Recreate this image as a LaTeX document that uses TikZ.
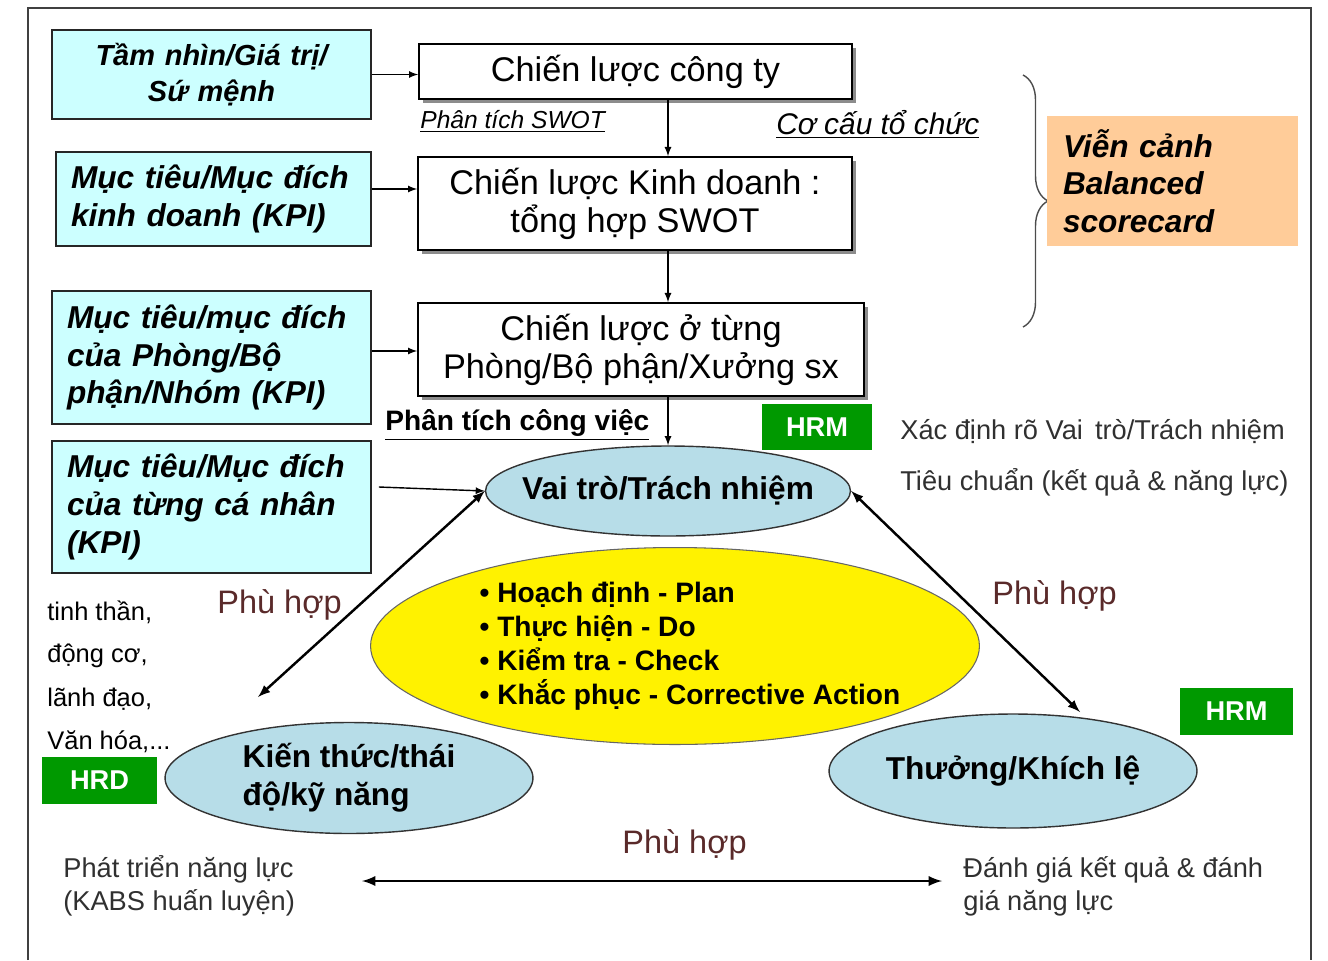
\documentclass[tikz,border=0pt]{standalone}
\usepackage{fontspec}
\setmainfont{Liberation Sans}
\usetikzlibrary{shapes.geometric,shadows,decorations.pathreplacing}
\definecolor{goalcyan}{HTML}{CCFFFF}
\definecolor{ellblue}{HTML}{B7DDE8}
\definecolor{bscorange}{HTML}{FFCC99}
\definecolor{hrgreen}{HTML}{009900}
\definecolor{fitred}{HTML}{5A2A2A}
\definecolor{notegray}{HTML}{303030}
\tikzset{
	goalbox/.style={draw=black!85, line width=1pt, fill=goalcyan, inner xsep=0.3cm, inner ysep=0pt, text width=5.78cm, align=left, font=\bfseries\itshape\fontsize{18}{21.5}\selectfont},
	stratbox/.style={draw=black, line width=1pt, fill=white, inner sep=0pt, align=center, drop shadow={shadow xshift=0.08cm, shadow yshift=-0.08cm, fill=black!45, opacity=1}, font=\fontsize{19.5}{21.5}\selectfont},
	roleell/.style={ellipse, draw=black!80, line width=0.8pt, fill=ellblue, inner sep=0pt, align=left, font=\bfseries\fontsize{18}{21.5}\selectfont},
	hrtag/.style={fill=hrgreen, text=white, inner sep=0pt, minimum height=0.93cm, font=\bfseries\fontsize{15.5}{18}\selectfont},
	note/.style={inner sep=0pt, anchor=west, text=notegray, align=left, font=\fontsize{15.5}{18.7}\selectfont},
	fitlabel/.style={inner sep=0pt, anchor=west, text=fitred, font=\fontsize{18.5}{22}\selectfont},
	link/.style={-latex, line width=0.8pt},
	fitlink/.style={latex-latex, line width=1.4pt}
}
\begin{document}
\begin{tikzpicture}[x=0.02cm, y=-0.02cm]
	\useasboundingbox (0,0) rectangle (1328,960);
	\draw[line width=1.1pt, black!75] (28,960) -- (28,8) -- (1311,8) -- (1311,960);

	% cac muc tieu
	\node[goalbox, align=center, minimum width=6.38cm, minimum height=1.78cm, font=\bfseries\itshape\fontsize{16.5}{20.5}\selectfont] (tam) at (211.5,74.5) {Tầm nhìn/Giá trị/\\Sứ mệnh};
	\node[goalbox, text width=5.7cm, minimum width=6.3cm, minimum height=1.88cm] (kd) at (213.5,199) {Mục tiêu/Mục đích\\kinh doanh (KPI)};
	\node[goalbox, minimum width=6.38cm, minimum height=2.66cm] (pb) at (211.5,357.5) {Mục tiêu/mục đích\\của Phòng/Bộ\\phận/Nhóm (KPI)};
	\node[goalbox, minimum width=6.38cm, minimum height=2.64cm] (ind) at (211.5,507) {Mục tiêu/Mục đích\\của từng cá nhân\\(KPI)};

	% chien luoc
	\node[stratbox, minimum width=8.66cm, minimum height=1.1cm] (cty) at (635.5,71.5) {Chiến lược công ty};
	\node[stratbox, minimum width=8.68cm, minimum height=1.86cm] (ckd) at (635,203.5) {Chiến lược Kinh doanh :\\tổng hợp SWOT};
	\node[stratbox, minimum width=8.92cm, minimum height=1.86cm] (cpb) at (641,349.5) {Chiến lược ở từng\\Phòng/Bộ phận/Xưởng sx};

	\node[inner sep=0pt, anchor=west, font=\itshape\fontsize{14}{16}\selectfont] (swot) at (420,121) {\underline{Phân tích SWOT}};
	\node[inner sep=0pt, anchor=west, font=\itshape\fontsize{17}{20}\selectfont] (cocau) at (776,124) {\underline{Cơ cấu tổ chức}};
	\node[inner sep=0pt, anchor=west, font=\bfseries\fontsize{16}{19}\selectfont] (ptcv) at (385,425) {\underline{Phân tích công việc}};

	\draw[decorate, decoration={brace, amplitude=0.5cm}, line width=0.8pt, black!70] (1023,75) -- (1023,327);
	\node[fill=bscorange, inner xsep=0.32cm, inner ysep=0pt, minimum height=2.6cm, text width=4.38cm, align=left, font=\bfseries\itshape\fontsize{18}{21.5}\selectfont] (bsc) at (1172.5,181) {Viễn cảnh\\Balanced\\scorecard};

	% vong tron nhan su
	\node[roleell, inner xsep=-0.37cm, minimum width=7.3cm, minimum height=1.8cm] (vt) at (668,491) {Vai trò/Trách nhiệm};
	\node[ellipse, draw=black!60, line width=0.6pt, fill=yellow, minimum width=12.18cm, minimum height=3.94cm] (pdca) at (675,646) {};
	\node[inner sep=0pt, align=left, font=\bfseries\fontsize{16}{19.3}\selectfont] (pdcatext) at (690,646) {• Hoạch định - Plan\\• Thực hiện - Do\\• Kiểm tra - Check\\• Khắc phục - Corrective Action};
	\node[roleell, minimum width=7.36cm, minimum height=2.22cm] (kt) at (349,778) {Kiến thức/thái\\độ/kỹ năng};
	\node[roleell, minimum width=7.36cm, minimum height=2.28cm] (th) at (1013,771) {Thưởng/Khích lệ};

	\node[hrtag, minimum width=2.2cm] (hrm) at (817,427) {HRM};
	\node[hrtag, minimum width=2.3cm] (hrd) at (99.5,780.5) {HRD};
	\node[hrtag, minimum width=2.26cm] (hrm2) at (1236.5,711.5) {HRM};

	\node[note] (xd) at (900,432) {Xác định rõ Vai\, trò/Trách nhiệm};
	\node[note] (tc) at (900,482) {Tiêu chuẩn (kết quả \& năng lực)};
	\foreach \y/\t in {612/{tinh thần,}, 656/{động cơ,}, 699/{lãnh đạo,}, 742/{Văn hóa,...}}{
		\node[note, text=black, font=\fontsize{14.5}{17}\selectfont] at (47,\y) {\t};
	}
	\node[note] (ptnl) at (63,886) {Phát triển năng lực\\(KABS huấn luyện)};
	\node[note] (dgkq) at (963,886) {Đánh giá kết quả \& đánh\\giá năng lực};

	\node[fitlabel] (phl) at (217,605) {Phù hợp};
	\node[fitlabel] (phr) at (992,596) {Phù hợp};
	\node[fitlabel] (phb) at (622,845) {Phù hợp};

	% mui ten
	\draw[link] (tam.east) -- (tam.east -| cty.west);
	\draw[link] ([yshift=0.2cm]kd.east) -- ([yshift=0.2cm]kd.east -| ckd.west);
	\draw[link] ([yshift=0.13cm]pb.east) -- ([yshift=0.13cm]pb.east -| cpb.west);
	\draw[link] ([xshift=0.14cm,yshift=0.4cm]ind.east) -- (vt.west);
	\draw[link] (cty.south -| vt.north) -- (ckd.north -| vt.north);
	\draw[link] (ckd.south -| vt.north) -- (cpb.north -| vt.north);
	\draw[link] (cpb.south -| vt.north) -- (vt.north);

	\coordinate (ktend) at (258,697);
	\coordinate (thend) at (1080,712);
	\coordinate (ptend) at (362,881);
	\coordinate (dgend) at (942,881);
	\draw[fitlink] (vt.west) -- (ktend);
	\draw[fitlink] (vt.east) -- (thend);
	\draw[fitlink, line width=1.6pt] (ptend) -- (dgend);
\end{tikzpicture}
\end{document}
